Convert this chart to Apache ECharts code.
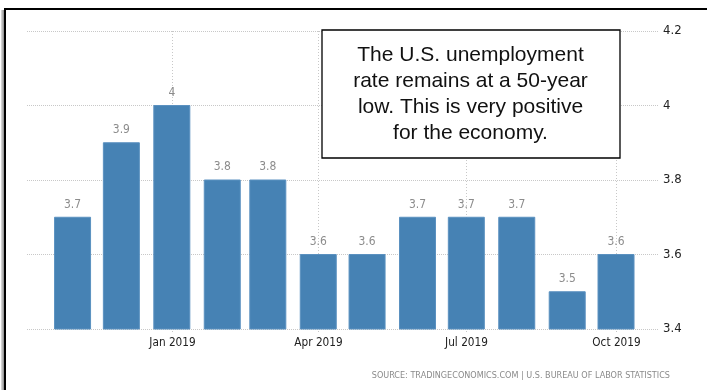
<!DOCTYPE html>
<html><head><meta charset="utf-8">
<script src="https://cdn.jsdelivr.net/npm/echarts@6/dist/echarts.min.js"></script>
<style>html,body{margin:0;padding:0;background:#fff;}#c{width:707px;height:390px;}</style>
</head><body><div id="c"></div>
<script>
const months = ['2018-11-01','2018-12-01','2019-01-01','2019-02-01','2019-03-01','2019-04-01','2019-05-01','2019-06-01','2019-07-01','2019-08-01','2019-09-01','2019-10-01'];
const rates = [3.7, 3.9, 4.0, 3.8, 3.8, 3.6, 3.6, 3.7, 3.7, 3.7, 3.5, 3.6];
const tickDates = ['2019-01-01','2019-04-01','2019-07-01','2019-10-01'];
const tickLabels = ['Jan 2019','Apr 2019','Jul 2019','Oct 2019'];
const noteLines = ['The U.S. unemployment','rate remains at a 50-year','low. This is very positive','for the economy.'];
const sourceText = 'SOURCE: TRADINGECONOMICS.COM | U.S. BUREAU OF LABOR STATISTICS';

const NARROW = '"DejaVu Sans Condensed", "Liberation Sans Narrow", "Liberation Sans", sans-serif';
const chart = echarts.init(document.getElementById('c'), null, {renderer: 'canvas'});
const Y_MIN = 3.4, Y_MAX = 4.2;
const ts = d => new Date(d + 'T00:00:00').getTime();

chart.setOption({
  animation: false,
  backgroundColor: '#fff',
  grid: {left: 27, right: 48, top: 31, bottom: 61},
  xAxis: {
    type: 'time',
    min: ts('2018-10-04'),
    max: new Date('2019-10-27T10:00:00').getTime(),
    axisLine: {show: false}, axisTick: {show: false}, axisLabel: {show: false}, splitLine: {show: false}
  },
  yAxis: {
    type: 'value', position: 'right', min: Y_MIN, max: Y_MAX, interval: 0.2,
    axisLine: {show: false}, axisTick: {show: false},
    axisLabel: {margin: 4, color: '#222', fontFamily: NARROW, fontSize: 13},
    splitLine: {show: true, lineStyle: {color: '#c8c8c8', type: 'dotted', width: 1}}
  },
  graphic: [
    {type: 'rect', z: 100, shape: {x: 1, y: 10, width: 4, height: 400},
     style: {fill: new echarts.graphic.LinearGradient(0,0,1,0,[{offset:0,color:'#e0e0e0'},{offset:1,color:'#707070'}])}},
    {type: 'rect', z: 101, shape: {x: 5, y: 9, width: 720, height: 400},
     style: {fill: 'none', stroke: '#000', lineWidth: 2}},
    {type: 'rect', z: 102, shape: {x: 322, y: 30, width: 298, height: 128},
     style: {fill: '#fff', stroke: '#000', lineWidth: 1.3}},
    {type: 'text', z: 103, x: 470.5, y: 94.5,
     style: {text: noteLines.join('\n'), fill: '#111', font: '21px "Liberation Sans", Arial, sans-serif', align: 'center', verticalAlign: 'middle', lineHeight: 26}},
    {type: 'text', z: 103, x: 670, y: 376,
     style: {text: sourceText, fill: '#8a8a8a', font: '9px ' + NARROW, align: 'right', verticalAlign: 'middle'}}
  ],
  series: [
    {
      type: 'custom', z: 1, clip: false, silent: true,
      data: tickDates.map(d => [ts(d), Y_MIN]),
      renderItem: function (params, api) {
        const t = api.value(0);
        const top = api.coord([t, Y_MAX]);
        const bot = api.coord([t, Y_MIN]);
        const x = Math.round(top[0]) + 0.5;
        return {
          type: 'group', children: [
            {type: 'line', shape: {x1: x, y1: top[1], x2: x, y2: bot[1] + 5},
             style: {stroke: '#c8c8c8', lineWidth: 1, lineDash: [1, 2]}},
            {type: 'text', x: x, y: bot[1] + 14, scaleX: 0.9,
             style: {text: tickLabels[params.dataIndex], fill: '#222', font: '13px ' + NARROW, align: 'center', verticalAlign: 'middle'}}
          ]
        };
      }
    },
    {
      type: 'custom', z: 3, clip: false, silent: true,
      data: months.map((m, i) => [ts(m), rates[i]]),
      renderItem: function (params, api) {
        const t = api.value(0), v = api.value(1);
        const top = api.coord([t, v]);
        const bot = api.coord([t, Y_MIN]);
        const w = 36;
        return {
          type: 'group', children: [
            {type: 'rect', shape: {x: top[0] - w / 2, y: top[1], width: w, height: bot[1] - top[1]},
             style: {fill: '#4682b4', stroke: '#5b91c0', lineWidth: 1}},
            {type: 'text', x: top[0], y: top[1] - 13, scaleX: 0.92,
             style: {text: String(v), fill: '#8c8c8c', font: '13px ' + NARROW, align: 'center', verticalAlign: 'middle'}}
          ]
        };
      }
    }
  ]
});
</script></body></html>
